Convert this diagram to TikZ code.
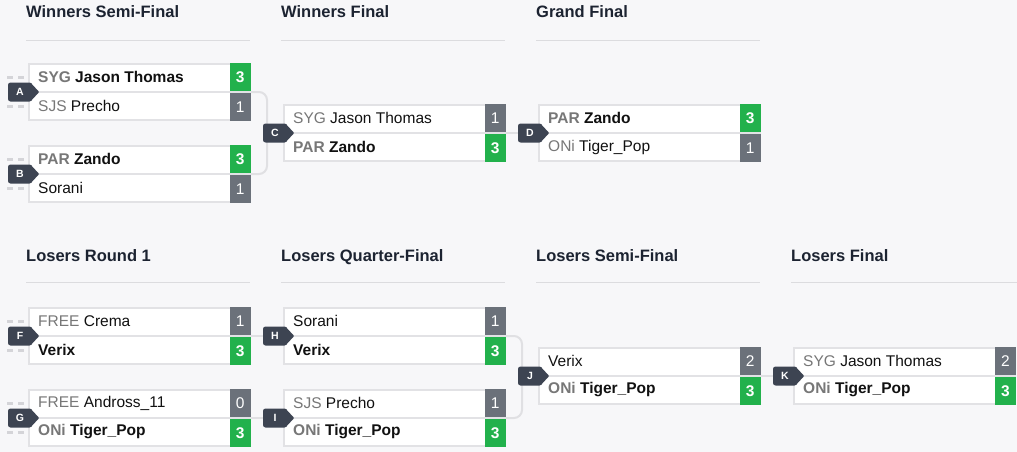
\documentclass[tikz,border=0pt]{standalone}
\usepackage{fontspec}
\setmainfont{Liberation Sans}
\usetikzlibrary{calc}
\definecolor{bg}{HTML}{F7F7F9}
\definecolor{boxline}{HTML}{E2E2E5}
\definecolor{connc}{HTML}{E0E0E3}
\definecolor{stubc}{HTML}{D4D4D8}
\definecolor{winc}{HTML}{22B14C}
\definecolor{losec}{HTML}{6B717A}
\definecolor{badgec}{HTML}{3D4452}
\definecolor{headc}{HTML}{1C2331}
\definecolor{prec}{HTML}{777777}
\definecolor{nmc}{HTML}{111111}
\definecolor{hlinec}{HTML}{DCDCDF}
\newcommand\rowfont{\fontsize{15.5}{18}\selectfont}
\newcommand\pw[1]{\textcolor{prec}{\bfseries #1}}
\newcommand\pl[1]{\textcolor{prec}{#1}}
\tikzset{
  x=1pt, y=-1pt,
  matchbox/.style={draw=boxline, line width=2pt, fill=white, minimum width=221pt, minimum height=56pt, inner sep=0pt, anchor=north west},
  divider/.style={draw=boxline, line width=2pt},
  rowtext/.style={anchor=west, inner sep=0pt, font=\rowfont, text=nmc},
  scorebase/.style={minimum width=21pt, minimum height=28pt, inner sep=0pt, text=white},
  wins/.style={scorebase, fill=winc, font=\rowfont\bfseries},
  loses/.style={scorebase, fill=losec, font=\rowfont},
  badgebox/.style={fill=badgec, rounded corners=2.5pt, minimum width=24pt, minimum height=19pt, inner sep=0pt, text=white, font=\fontsize{10.5}{12}\selectfont\bfseries},
  conn/.style={draw=connc, line width=2pt},
  bracket/.style={conn, rounded corners=8pt},
  stubline/.style={draw=stubc, line width=3pt, dash pattern=on 6pt off 5pt},
  headtxt/.style={anchor=base west, inner sep=0pt, font=\fontsize{16.5}{19}\selectfont\bfseries, text=headc},
  hline/.style={draw=hlinec, line width=1pt},
}
% name, L, T, text1, style1, score1, text2, style2, score2
\newcommand\mymatch[9]{%
  \node[matchbox] (#1) at (#2+1,#3+1) {};
  \draw[divider] (#1.west) -- (#1.east);
  \node[rowtext] (#1t) at ($(#1.north west)+(10,14)$) {#4};
  \node[#5, anchor=north east] (#1s) at (#1.north east) {#6};
  \node[rowtext] (#1b) at ($(#1.west)+(10,14)$) {#7};
  \node[#8, anchor=south east] (#1z) at (#1.south east) {#9};
}
% letter, match name
\newcommand\mybadge[2]{%
  \node[badgebox] (b#1) at ($(#2.west)+(-8,0)$) {#1};
  \fill[badgec, rounded corners=1pt] ($(b#1.north east)+(-2,0)$) -- ($(b#1.east)+(7,0)$) -- ($(b#1.south east)+(-2,0)$) -- cycle;
}
\newcommand\mystubs[1]{%
  \coordinate (s#1a) at (7,0 |- #1t.west);
  \coordinate (s#1b) at (7,0 |- #1b.west);
  \draw[stubline] (s#1a) -- ($(#1.west |- s#1a)+(-4,0)$);
  \draw[stubline] (s#1b) -- ($(#1.west |- s#1b)+(-4,0)$);
}
\begin{document}
\begin{tikzpicture}
\fill[bg] (0,0) rectangle (1017,452);
\useasboundingbox (0,0) rectangle (1017,452);

% headers
\node[headtxt] (h1) at (26,18) {Winners Semi-Final};
\node[headtxt] (h2) at (281,18) {Winners Final};
\node[headtxt] (h3) at (536,18) {Grand Final};
\node[headtxt] (h4) at (26,261) {Losers Round 1};
\node[headtxt] (h5) at (281,261) {Losers Quarter-Final};
\node[headtxt] (h6) at (536,261) {Losers Semi-Final};
\node[headtxt] (h7) at (791,261) {Losers Final};
\draw[hline] (26,40.5) -- (250,40.5);
\draw[hline] (281,40.5) -- (505,40.5);
\draw[hline] (536,40.5) -- (760,40.5);
\draw[hline] (26,282.5) -- (250,282.5);
\draw[hline] (281,282.5) -- (505,282.5);
\draw[hline] (536,282.5) -- (760,282.5);
\draw[hline] (791,282.5) -- (1017,282.5);

% matches
\mymatch{A}{27}{62}{\pw{SYG} \textbf{Jason Thomas}}{wins}{3}{\pl{SJS} Precho}{loses}{1}
\mymatch{B}{27}{144}{\pw{PAR} \textbf{Zando}}{wins}{3}{Sorani}{loses}{1}
\mymatch{C}{282}{103}{\pl{SYG} Jason Thomas}{loses}{1}{\pw{PAR} \textbf{Zando}}{wins}{3}
\mymatch{D}{537}{103}{\pw{PAR} \textbf{Zando}}{wins}{3}{\pl{ONi} Tiger\_Pop}{loses}{1}
\mymatch{F}{27}{306}{\pl{FREE} Crema}{loses}{1}{\textbf{Verix}}{wins}{3}
\mymatch{G}{27}{388}{\pl{FREE} Andross\_11}{loses}{0}{\pw{ONi} \textbf{Tiger\_Pop}}{wins}{3}
\mymatch{H}{282}{306}{Sorani}{loses}{1}{\textbf{Verix}}{wins}{3}
\mymatch{I}{282}{388}{\pl{SJS} Precho}{loses}{1}{\pw{ONi} \textbf{Tiger\_Pop}}{wins}{3}
\mymatch{J}{537}{346}{Verix}{loses}{2}{\pw{ONi} \textbf{Tiger\_Pop}}{wins}{3}
\mymatch{K}{792}{346}{\pl{SYG} Jason Thomas}{loses}{2}{\pw{ONi} \textbf{Tiger\_Pop}}{wins}{3}

% connectors
\coordinate (jAB) at ($(A.east)!0.5!(B.east)+(16,0)$);
\draw[bracket] (A.east) -- ++(16,0) |- (B.east);
\draw[conn] (jAB) -- (C.west);
\draw[conn] (C.east) -- (D.west);
\draw[conn] (F.east) -- (H.west);
\draw[conn] (G.east) -- (I.west);
\coordinate (jHI) at ($(H.east)!0.5!(I.east)+(16,0)$);
\draw[bracket] (H.east) -- ++(16,0) |- (I.east);
\draw[conn] (jHI) -- (J.west);
\draw[conn] (J.east) -- (K.west);

% stubs
\mystubs{A}
\mystubs{B}
\mystubs{F}
\mystubs{G}

% badges
\mybadge{A}{A}
\mybadge{B}{B}
\mybadge{C}{C}
\mybadge{D}{D}
\mybadge{F}{F}
\mybadge{G}{G}
\mybadge{H}{H}
\mybadge{I}{I}
\mybadge{J}{J}
\mybadge{K}{K}
\end{tikzpicture}
\end{document}
